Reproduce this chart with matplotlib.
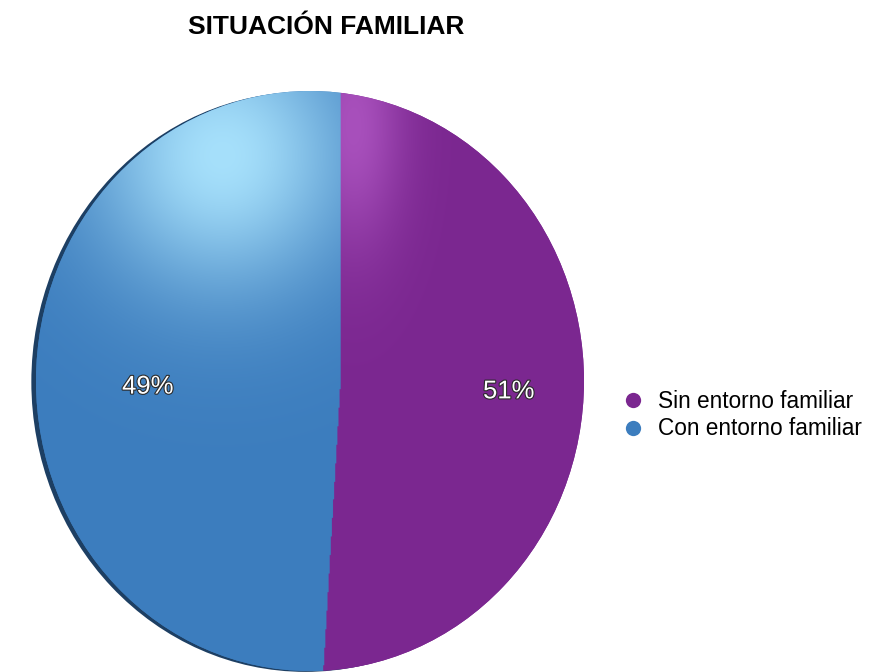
import numpy as np
import matplotlib
matplotlib.use("Agg")
import matplotlib.pyplot as plt
import matplotlib.patches as patches
import matplotlib.patheffects as pe
from matplotlib.colors import to_rgb
from matplotlib.lines import Line2D

plt.rcParams['font.family'] = ['Liberation Sans', 'DejaVu Sans']

title = "SITUACIÓN FAMILIAR"
labels = ["Sin entorno familiar", "Con entorno familiar"]
values = [51, 49]
colors = ["#7b2790", "#3c7dbe"]
highlights = ["#a850bc", "#a6e0fb"]

W, H = 871, 672
fig = plt.figure(figsize=(W / 100, H / 100), dpi=100)

# axes covering the pie face (pixels -> figure fraction)
left_px, right_px, top_px, bot_px = 36, 584, 91, 671
ax = fig.add_axes([left_px / W, 1 - bot_px / H,
                   (right_px - left_px) / W, (bot_px - top_px) / H])

# dark rim on the left side (fake 3d edge)
rim = patches.Circle((-0.017, -0.003), 1.0, facecolor="#1d3f63",
                     edgecolor="none", zorder=0, clip_on=False)
ax.add_patch(rim)

# apex shifted right a bit (perspective look), wedges clipped to the face
apex = (0.112, 0.0)
wedges, texts, autotexts = ax.pie(
    values, colors=colors, startangle=90, counterclock=False,
    center=apex, radius=1.15, autopct="%1.0f%%", pctdistance=0.573,
    wedgeprops=dict(linewidth=0, zorder=1),
    textprops=dict(color="white", fontsize=18.5))

face = patches.Circle((0, 0), 1.0, transform=ax.transData)
for w in wedges:
    w.set_clip_on(True)
    w.set_clip_path(face)

# soft glossy highlight on the top of each slice
gx = np.linspace(-1, 1, 500)
gy = np.linspace(-1, 1, 500)
X, Y = np.meshgrid(gx, gy)
ang = (90 - np.degrees(np.arctan2(Y - apex[1], X - apex[0]))) % 360
bounds = np.concatenate([[0], np.cumsum(values) / np.sum(values) * 360])
hl_params = [((0.16, 0.88), 0.13, 0.30), ((-0.32, 0.78), 0.34, 0.33)]

img = np.zeros(X.shape + (4,))
for i, (base, hl, (c, sx, sy)) in enumerate(zip(colors, highlights, hl_params)):
    k = np.exp(-0.5 * (((X - c[0]) / sx) ** 2 + ((Y - c[1]) / sy) ** 2))
    b = np.array(to_rgb(base))
    h = np.array(to_rgb(hl))
    m = (ang >= bounds[i]) & (ang < bounds[i + 1])
    img[m, :3] = (b + (h - b) * k[..., None])[m]
    img[m, 3] = 1.0
im = ax.imshow(img, extent=(-1, 1, -1, 1), origin="lower",
               aspect="auto", zorder=2, interpolation="bilinear")
im.set_clip_path(face)

# small nudges of the percent labels (perspective of the original)
label_shift = [(-0.045, -0.015), (-0.045, -0.04)]
for t, (dx, dy) in zip(autotexts, label_shift):
    x, y = t.get_position()
    t.set_position((x + dx, y + dy))
    t.set_zorder(5)
    t.set_path_effects([pe.withStroke(linewidth=1.6, foreground="#2b2b2b")])

ax.set_xlim(-1, 1)
ax.set_ylim(-1, 1)
ax.set_aspect("auto")
ax.axis("off")

fig.text(326 / W, 1 - 27 / H, title, ha="center", va="center",
         fontsize=19, fontweight="bold")

handles = [Line2D([], [], linestyle="none", marker="o", markersize=11,
                  markerfacecolor=c, markeredgecolor="none") for c in colors]
fig.legend(handles, labels, loc="center left",
           bbox_to_anchor=(622 / W, 1 - 415 / H), frameon=False,
           fontsize=16.3, handlelength=1.0, handletextpad=0.6,
           borderpad=0, borderaxespad=0, labelspacing=0.22)

fig.savefig("out.png", dpi=100)
